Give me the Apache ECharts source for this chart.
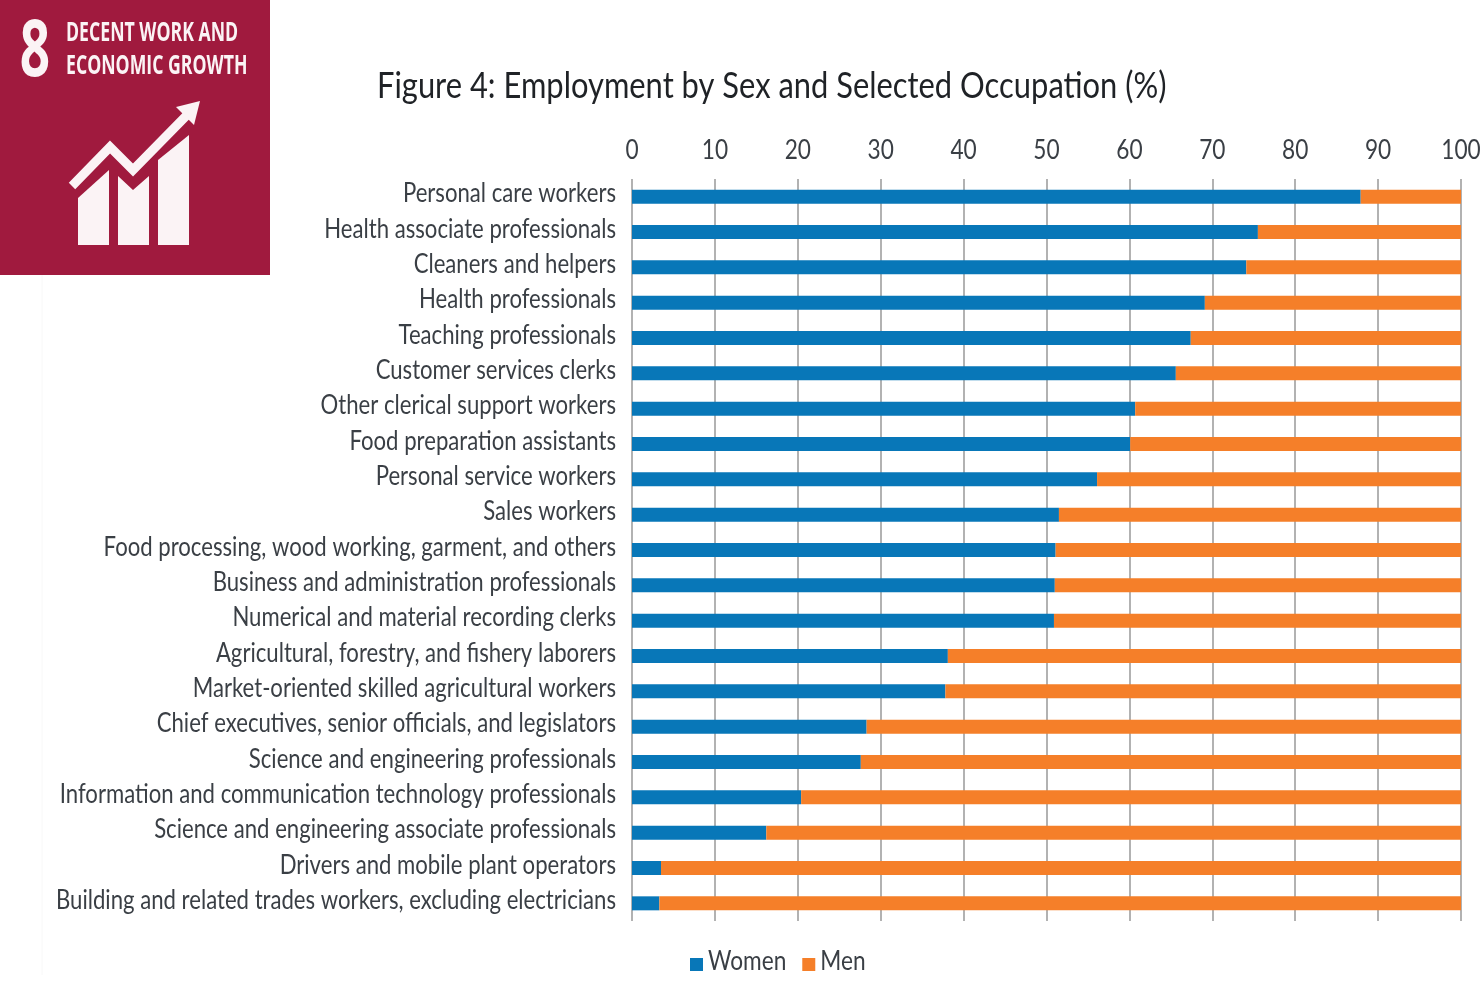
<!DOCTYPE html>
<html>
<head>
<meta charset="utf-8">
<style>html,body{margin:0;padding:0;background:#fff}#chart{width:1481px;height:982px}</style>
<script src="https://cdn.jsdelivr.net/npm/echarts@6/dist/echarts.min.js"></script>
</head>
<body>
<div id="chart"></div>
<script>
const occupations = [
  "Personal care workers","Health associate professionals","Cleaners and helpers",
  "Health professionals","Teaching professionals","Customer services clerks",
  "Other clerical support workers","Food preparation assistants","Personal service workers",
  "Sales workers","Food processing, wood working, garment, and others",
  "Business and administration professionals","Numerical and material recording clerks",
  "Agricultural, forestry, and fishery laborers","Market-oriented skilled agricultural workers",
  "Chief executives, senior officials, and legislators","Science and engineering professionals",
  "Information and communication technology professionals","Science and engineering associate professionals",
  "Drivers and mobile plant operators","Building and related trades workers, excluding electricians"
];
const women = [87.9,75.5,74.1,69.1,67.4,65.6,60.7,60.1,56.1,51.5,51.1,51.0,50.9,38.1,37.8,28.3,27.6,20.4,16.2,3.5,3.3];
const men   = [12.1,24.5,25.9,30.9,32.6,34.4,39.3,39.9,43.9,48.5,48.9,49.0,49.1,61.9,62.2,71.7,72.4,79.6,83.8,96.5,96.7];
const legendNames = ['Women','Men'];

const FONT = 'Lato,"Open Sans",sans-serif';
const BADGE_FONT = '"Open Sans",sans-serif';
const INK = '#3a3f45';
const chart = echarts.init(document.getElementById('chart'), null, {renderer:'canvas'});

// SDG 8 badge: square, heading, rising arrow over three columns
const WHITE = '#fbf3f5';
const badge = [
  {type:'line', shape:{x1:42,y1:275,x2:42,y2:975}, style:{stroke:'#f8f8f8',lineWidth:1}},
  {type:'rect', shape:{x:0,y:0,width:270,height:275}, style:{fill:'#a01a3e'}},
  {type:'text', x:35, y:54, scaleX:0.68, style:{text:'8',fill:WHITE,font:'bold 78px '+BADGE_FONT,align:'center',verticalAlign:'middle'}},
  {type:'text', x:66, y:34, scaleX:0.68, style:{text:'DECENT WORK AND',fill:WHITE,font:'bold 26px '+BADGE_FONT,verticalAlign:'middle'}},
  {type:'text', x:66, y:67, scaleX:0.68, style:{text:'ECONOMIC GROWTH',fill:WHITE,font:'bold 26px '+BADGE_FONT,verticalAlign:'middle'}},
  {type:'polygon', shape:{points:[[78,198],[109,170],[109,245],[78,245]]}, style:{fill:WHITE}},
  {type:'polygon', shape:{points:[[118,176],[133,190],[149,176],[149,245],[118,245]]}, style:{fill:WHITE}},
  {type:'polygon', shape:{points:[[158,160],[189,135],[189,245],[158,245]]}, style:{fill:WHITE}},
  {type:'polyline', shape:{points:[[72,186],[110,147],[133,170],[188,114]]}, style:{stroke:WHITE,fill:null,lineWidth:9}},
  {type:'polygon', shape:{points:[[176,107],[200,101],[194,125]]}, style:{fill:WHITE}}
];

chart.setOption({
  backgroundColor:'#fff',
  animation:false,
  textStyle:{fontFamily:FONT},
  title:{
    text:'Figure 4: Employment by Sex and Selected Occupation (%)',
    left:372, top:63,
    textStyle:{fontFamily:FONT,fontSize:37,fontWeight:'normal',color:'#1f2226'}
  },
  legend:{
    data:legendNames,
    left:685, top:946,
    itemWidth:13, itemHeight:13, itemGap:1, icon:'rect',
    textStyle:{fontFamily:FONT,fontSize:27,color:INK}
  },
  grid:{left:632,right:20,top:179,bottom:61,outerBoundsMode:'none'},
  xAxis:{
    type:'value', position:'top', min:0, max:100, interval:10,
    axisLine:{show:false}, axisTick:{show:false},
    axisLabel:{fontFamily:FONT,fontSize:27,color:INK,margin:15},
    splitLine:{show:true,lineStyle:{color:'#b2b2b2',width:2}}
  },
  yAxis:{
    type:'category', inverse:true, data:occupations,
    axisLine:{show:false}, axisTick:{show:false},
    axisLabel:{fontFamily:FONT,fontSize:27,color:INK,margin:16}
  },
  series:[
    {name:'Women',type:'bar',stack:'share',data:women,barWidth:14,itemStyle:{color:'#0877b8'}},
    {name:'Men',type:'bar',stack:'share',data:men,barWidth:14,itemStyle:{color:'#f57f29'}}
  ],
  graphic:badge
});

// The report's typeface is condensed: narrow every chart text around its own anchor,
// and sit occupation and legend labels slightly above their marks
const zr = chart.getZr();
const occupationSet = new Set(occupations);
const legendSet = new Set(legendNames);
zr.storage.traverse(el => {
  if (el.type === 'text' && el.scaleX === 1 && el.style && el.style.text) {
    const t = el.style.text;
    el.originX = el.style.x || 0;
    el.originY = el.style.y || 0;
    el.scaleX = occupationSet.has(t) ? 0.82 : (t.startsWith('Figure') ? 0.835 : 0.84);
    if (occupationSet.has(t) || legendSet.has(t)) el.y -= 3;
    el.markRedraw();
  }
});
zr.refreshImmediately();
</script>
</body>
</html>
